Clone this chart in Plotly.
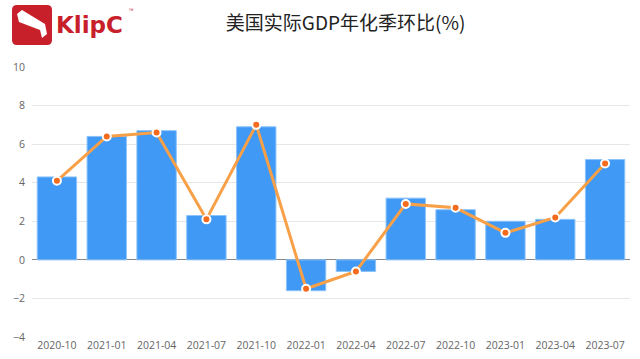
import plotly.graph_objects as go

categories = ["2020-10", "2021-01", "2021-04", "2021-07", "2021-10", "2022-01",
              "2022-04", "2022-07", "2022-10", "2023-01", "2023-04", "2023-07"]
bar_values = [4.3, 6.4, 6.7, 2.3, 6.9, -1.6, -0.6, 3.2, 2.6, 2.0, 2.1, 5.2]
line_values = [4.1, 6.4, 6.6, 2.1, 7.0, -1.5, -0.6, 2.9, 2.7, 1.4, 2.2, 5.0]
y_ticks = [-4, -2, 0, 2, 4, 6, 8, 10]
title_text = "美国实际GDP年化季环比(%)"

fig = go.Figure()
fig.add_trace(go.Bar(
    x=categories, y=bar_values,
    marker=dict(color="#3f99f5", line=dict(color="#8cc3fa", width=1)),
    showlegend=False, hoverinfo="x+y",
))
fig.add_trace(go.Scatter(
    x=categories, y=line_values, mode="lines+markers",
    line=dict(color="#f8a048", width=3),
    marker=dict(color="#f56b1e", size=8, line=dict(color="white", width=2)),
    showlegend=False,
))

fig.update_layout(
    width=640, height=359,
    margin=dict(l=32, r=10, t=67, b=22, autoexpand=False),
    paper_bgcolor="white", plot_bgcolor="white",
    bargap=0.21,
    font=dict(family="Noto Sans CJK SC, Open Sans, sans-serif", color="#666666", size=10),
    title=dict(text=title_text, x=0.54, xanchor="center", y=0.935, yanchor="middle",
               font=dict(size=19, color="#222222", family="Noto Sans CJK SC, sans-serif")),
    xaxis=dict(type="category", range=[-0.5, len(categories) - 0.5], showgrid=False,
               showline=False, ticks="", automargin=False,
               tickfont=dict(size=10.5, color="#666666", family="Open Sans, sans-serif")),
    yaxis=dict(range=[-4, 10], tickvals=y_ticks, showgrid=True, gridcolor="#e6e6e6",
               gridwidth=1, zeroline=True, zerolinecolor="#888888", zerolinewidth=1,
               ticks="", ticklabelstandoff=6, automargin=False,
               tickfont=dict(size=10.5, color="#666666", family="Open Sans, sans-serif")),
)

# Logo, placed in paper coords computed from pixel positions (plot area 598x270)
def px(x):
    return (x - 32) / 598.0
def py(y):
    return (337 - y) / 270.0

x0, x1, y0, y1, r = 12, 52, 5, 45, 5
path = (f"M {px(x0+r)} {py(y0)} L {px(x1-r)} {py(y0)} Q {px(x1)} {py(y0)} {px(x1)} {py(y0+r)} "
        f"L {px(x1)} {py(y1-r)} Q {px(x1)} {py(y1)} {px(x1-r)} {py(y1)} "
        f"L {px(x0+r)} {py(y1)} Q {px(x0)} {py(y1)} {px(x0)} {py(y1-r)} "
        f"L {px(x0)} {py(y0+r)} Q {px(x0)} {py(y0)} {px(x0+r)} {py(y0)} Z")
fig.add_shape(type="path", xref="paper", yref="paper", path=path,
              fillcolor="#c8202b", line=dict(width=0), layer="above")
ribbon = (f"M {px(17)} {py(14)} L {px(22)} {py(10)} L {px(45)} {py(24)} L {px(47)} {py(34)} "
          f"L {px(42)} {py(38)} L {px(40)} {py(30)} L {px(19)} {py(22)} Z")
fig.add_shape(type="path", xref="paper", yref="paper", path=ribbon,
              fillcolor="white", line=dict(width=0), layer="above")
fig.add_annotation(text="<b>KlipC</b>", xref="paper", yref="paper", x=px(54), y=py(25),
                   xanchor="left", yanchor="middle", showarrow=False,
                   font=dict(size=23, color="#c8202b", family="DejaVu Sans, sans-serif"))
fig.add_annotation(text="™", xref="paper", yref="paper", x=px(127), y=py(10),
                   xanchor="left", yanchor="middle", showarrow=False,
                   font=dict(size=6, color="#c8202b"))

fig.write_html("out.html", config={"displayModeBar": False},
               post_script="document.body.style.margin='0';")
